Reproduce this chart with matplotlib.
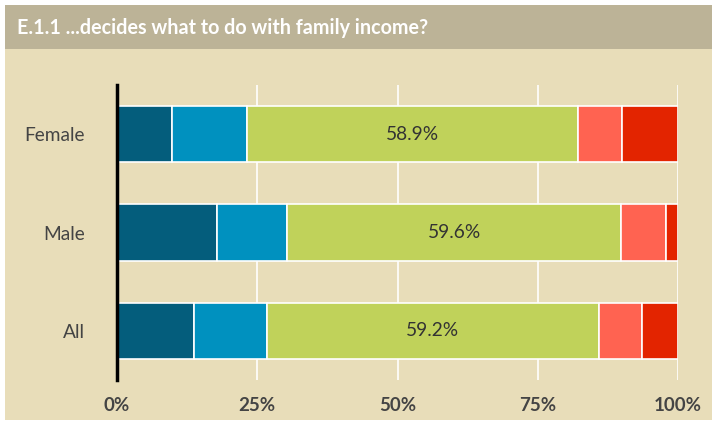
import numpy as np
import matplotlib
matplotlib.use("Agg")
import matplotlib.pyplot as plt
from matplotlib.patches import Rectangle

plt.rcParams['font.family'] = ['Lato', 'DejaVu Sans']

groups = ["Female", "Male", "All"]
seg1 = [9.8, 17.8, 13.7]
seg2 = [13.4, 12.5, 13.0]
seg3 = [58.9, 59.6, 59.2]
seg4 = [7.9, 8.0, 7.7]
seg5 = [10.0, 2.1, 6.4]
colors = ["#045d7c", "#0091bf", "#c0d25a", "#ff6351", "#e32400"]

fig = plt.figure(figsize=(7.17, 4.25), dpi=100)
fig.patches.append(Rectangle((5/717, 5/425), 707/717, 371/425, transform=fig.transFigure,
                             facecolor="#e8ddb9", edgecolor="none", zorder=-2))
fig.patches.append(Rectangle((5/717, 376/425), 707/717, 44/425, transform=fig.transFigure,
                             facecolor="#bcb397", edgecolor="none", zorder=-1))
fig.text(17/717, 1 - 28/425, "E.1.1 ...decides what to do with family income?", color="white",
         fontsize=14.2, fontweight="bold", va="center", ha="left")

ax = fig.add_axes([117/717, 1 - 380/425, 561/717, 295/425])
ax.set_facecolor("none")
y = np.arange(len(groups))
left = np.zeros(len(groups))
for vals, c in zip([seg1, seg2, seg3, seg4, seg5], colors):
    ax.barh(y, vals, left=left, height=0.57, color=c, edgecolor="white", linewidth=1.2, zorder=3)
    left += np.array(vals)
for i in range(len(groups)):
    cx = seg1[i] + seg2[i] + seg3[i] / 2
    ax.text(cx, y[i], f"{seg3[i]:.1f}%", ha="center", va="center", fontsize=13.8, color="#333333", zorder=4)

ax.set_xlim(0, 100)
ax.set_ylim(2.5, -0.5)
ax.set_yticks(y)
ax.set_yticklabels(groups, fontsize=13.8, color="#444444")
ax.set_xticks([0, 25, 50, 75, 100])
ax.set_xticklabels(["0%", "25%", "50%", "75%", "100%"], fontsize=13.5, fontweight="bold", color="#444444")
ax.tick_params(axis="x", length=0, pad=12)
ax.tick_params(axis="y", length=0, pad=23)
ax.grid(axis="x", color="white", linewidth=1.2, zorder=0)
for s in ["top", "right", "bottom"]:
    ax.spines[s].set_visible(False)
ax.spines["left"].set_color("black")
ax.spines["left"].set_linewidth(2.5)
ax.spines["left"].set_zorder(5)

fig.savefig("out.png", dpi=100)
